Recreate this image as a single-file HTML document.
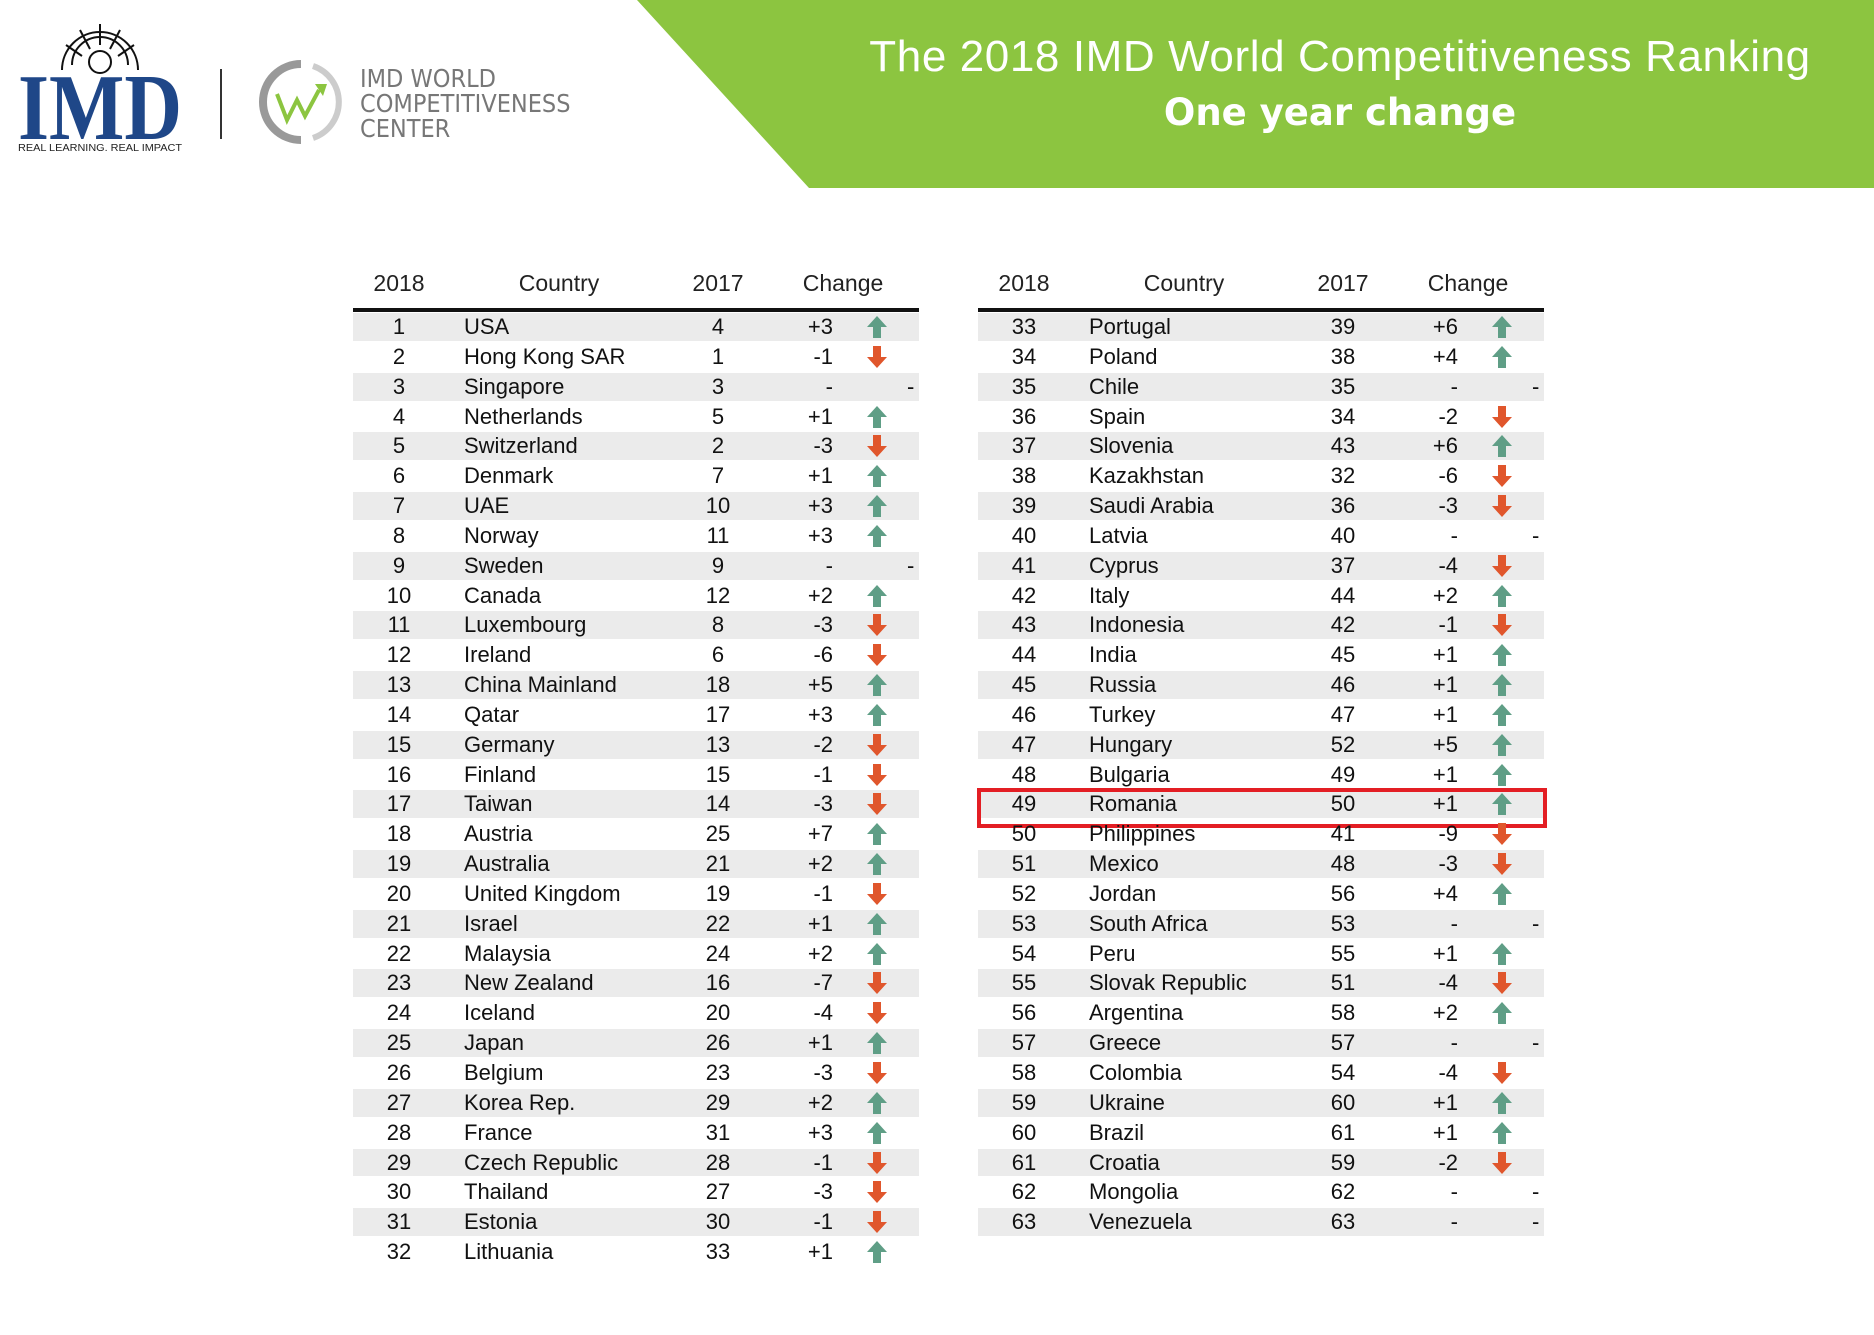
<!DOCTYPE html>
<html><head><meta charset="utf-8">
<style>
body{margin:0;width:1874px;height:1335px;background:#fff;position:relative;overflow:hidden;font-family:"Liberation Sans",Arial,sans-serif;}
.abs{position:absolute;}
.hdr{position:absolute;top:270px;font-size:23px;color:#222;transform:translateX(-50%);white-space:nowrap;}
.cell{position:absolute;font-size:22px;color:#111;white-space:nowrap;line-height:30px;}
</style></head><body>
<svg class="abs" style="left:0;top:0" width="1874" height="200">
<polygon points="637,0 1874,0 1874,188 809,188" fill="#8cc540"/>
</svg>
<div class="abs" style="left:820px;width:1040px;top:32px;text-align:center;color:#fff;font-size:44px;letter-spacing:0.6px;white-space:nowrap;font-family:'Liberation Sans',sans-serif;">The 2018 IMD World Competitiveness Ranking</div>
<div class="abs" style="left:820px;width:1040px;top:91px;text-align:center;color:#fff;font-size:37px;font-weight:bold;white-space:nowrap;font-family:'DejaVu Sans','Liberation Sans',sans-serif">One year change</div>

<svg class="abs" style="left:10px;top:15px" width="200" height="140">
<g fill="none" stroke="#111" stroke-width="2">
<circle cx="90" cy="47" r="11"/>
<path d="M52,55 A38,38 0 0 1 128,55"/><path d="M62,50 A28,28 0 0 1 118,50"/>
<line x1="90" y1="9" x2="90" y2="30"/><line x1="70" y1="15" x2="80" y2="34"/><line x1="110" y1="15" x2="100" y2="34"/>
<line x1="56" y1="30" x2="72" y2="41"/><line x1="124" y1="30" x2="108" y2="41"/>
</g>
<text x="8" y="124" font-family="Liberation Serif" font-weight="bold" font-size="94" fill="#1f4788" textLength="164" lengthAdjust="spacingAndGlyphs">IMD</text>
<text x="8" y="136" font-family="Liberation Sans" font-size="10.5" fill="#222" textLength="164" lengthAdjust="spacingAndGlyphs">REAL LEARNING. REAL IMPACT</text>
</svg>
<div class="abs" style="left:220px;top:69px;width:2px;height:70px;background:#333"></div>
<svg class="abs" style="left:255px;top:58px" width="100" height="90">
<path d="M46,6 A38,38 0 1 0 46,82" fill="none" stroke="#999" stroke-width="8"/>
<path d="M58,8 A38,38 0 0 1 58,80" fill="none" stroke="#ccc" stroke-width="6"/>
<polyline points="22,36 32,62 42,42 50,58 64,32" fill="none" stroke="#8cc540" stroke-width="4"/>
<polygon points="60,26 72,26 68,38" fill="#8cc540"/>
</svg>
<div class="abs" style="left:360px;top:66px;font-size:25px;line-height:25px;color:#777;font-family:'DejaVu Sans Condensed','Liberation Sans Narrow',sans-serif;">IMD WORLD<br>COMPETITIVENESS<br>CENTER</div>

<div id="tables"></div>

<script>
const countries = ["USA","Hong Kong SAR","Singapore","Netherlands","Switzerland","Denmark","UAE","Norway","Sweden","Canada","Luxembourg","Ireland","China Mainland","Qatar","Germany","Finland","Taiwan","Austria","Australia","United Kingdom","Israel","Malaysia","New Zealand","Iceland","Japan","Belgium","Korea Rep.","France","Czech Republic","Thailand","Estonia","Lithuania","Portugal","Poland","Chile","Spain","Slovenia","Kazakhstan","Saudi Arabia","Latvia","Cyprus","Italy","Indonesia","India","Russia","Turkey","Hungary","Bulgaria","Romania","Philippines","Mexico","Jordan","South Africa","Peru","Slovak Republic","Argentina","Greece","Colombia","Ukraine","Brazil","Croatia","Mongolia","Venezuela"];
const rank2017 = [4,1,3,5,2,7,10,11,9,12,8,6,18,17,13,15,14,25,21,19,22,24,16,20,26,23,29,31,28,27,30,33,39,38,35,34,43,32,36,40,37,44,42,45,46,47,52,49,50,41,48,56,53,55,51,58,57,54,60,61,59,62,63];
const changes = [3,-1,0,1,-3,1,3,3,0,2,-3,-6,5,3,-2,-1,-3,7,2,-1,1,2,-7,-4,1,-3,2,3,-1,-3,-1,1,6,4,0,-2,6,-6,-3,0,-4,2,-1,1,1,1,5,1,1,-9,-3,4,0,1,-4,2,0,-4,1,1,-2,0,0];
const highlightRank = 49;

const host=document.getElementById('tables');
const rowH=29.84, firstY=312;
function mk(tag,cls,style,text){const e=document.createElement(tag);if(cls)e.className=cls;e.style.cssText=style;if(text!==undefined)e.textContent=text;host.appendChild(e);return e;}
[0,1].forEach(t=>{
  const ox=353+t*625;
  const hs=[["2018",46],["Country",206],["2017",365],["Change",490]];
  hs.forEach(h=>{const e=mk('div','hdr','left:'+(ox+h[1])+'px',h[0]);
    
    });
  const ln=mk('div','abs','left:'+ox+'px;top:308px;width:566px;height:4px;background:#111');
  
  
  const start=t*32, end=t?countries.length:32;
  for(let i=start;i<end;i++){
    const r=i-start, y=firstY+r*rowH, rank=i+1;
    if(r%2===0){const bg=mk('div','abs','left:'+ox+'px;top:'+(y+1)+'px;width:566px;height:'+(rowH-2)+'px;background:#ebebeb');
      
      }
    const c1=mk('div','cell','left:'+(ox+26)+'px;width:40px;text-align:center;top:'+y+'px',String(rank));
    
    
    const c2=mk('div','cell','left:'+(ox+111)+'px;top:'+y+'px',countries[i]);
    
    
    const c3=mk('div','cell','left:'+(ox+345)+'px;width:40px;text-align:center;top:'+y+'px',String(rank2017[i]));
    
    
    const ch=changes[i];
    const txt=ch>0?'+'+ch:(ch<0?String(ch):'-');
    const c4=mk('div','cell','left:'+(ox+440)+'px;width:40px;text-align:right;top:'+y+'px',txt);
    
    
    if(ch===0){
      const d=mk('div','cell','left:'+(ox+554)+'px;top:'+y+'px','-');
      
      
    } else {
      const up=ch>0;
      const sv=document.createElementNS('http://www.w3.org/2000/svg','svg');
      sv.setAttribute('width','22');sv.setAttribute('height','24');
      sv.style.cssText='position:absolute;left:'+(ox+513)+'px;top:'+(y+3)+'px';
      sv.innerHTML=up?'<polygon points="11,1 21,12 15,12 15,23 7,23 7,12 1,12" fill="#5f9e86"/>':'<polygon points="11,23 21,12 15,12 15,1 7,1 7,12 1,12" fill="#e0562c"/>';
      host.appendChild(sv);
      
      
    }
    if(rank===highlightRank){
      const hb=mk('div','abs','left:'+(ox-1)+'px;top:'+(y-1)+'px;width:562px;height:'+(rowH+2)+'px;border:4px solid #e31e24');
      
      
    }
  }
});
</script>
</body></html>
